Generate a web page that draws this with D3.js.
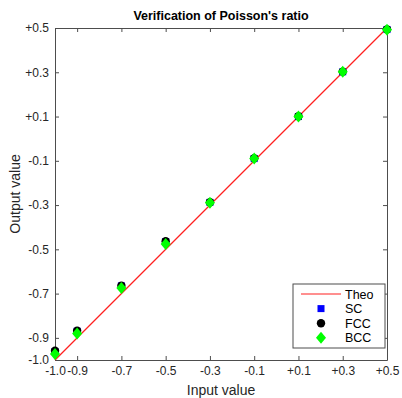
<!DOCTYPE html>
<html>
<head>
<meta charset="utf-8">
<script src="https://cdn.jsdelivr.net/npm/d3@7"></script>
<style>
  body { margin: 0; background: #fff; }
  svg { font-family: "Liberation Sans", Arial, sans-serif; }
  .axis path, .axis line { stroke: #4d4d4d; }
  .axis text { fill: #262626; font-size: 12px; }
</style>
</head>
<body>
<div id="chart"></div>
<script>
// Data
const inputValues = [-1.0, -0.9, -0.7, -0.5, -0.3, -0.1, 0.1, 0.3, 0.5];
const scValues  = [-0.962, -0.870, -0.665, -0.465, -0.288, -0.090, 0.100, 0.302, 0.493];
const fccValues = [-0.958, -0.868, -0.664, -0.463, -0.287, -0.088, 0.101, 0.303, 0.494];
const bccValues = [-0.973, -0.880, -0.675, -0.476, -0.290, -0.090, 0.100, 0.302, 0.492];
const theoX = [-1.0, 0.5];
const theoY = [-1.0, 0.5];
const tickLabels = [-1.0, -0.9, -0.7, -0.5, -0.3, -0.1, 0.1, 0.3, 0.5];

const W = 402, H = 398;
const margin = { left: 55, right: 15, top: 28, bottom: 38 };
const plotW = W - margin.left - margin.right;
const plotH = H - margin.top - margin.bottom;

const svg = d3.select('#chart').append('svg')
    .attr('width', W)
    .attr('height', H);

const g = svg.append('g')
    .attr('transform', `translate(${margin.left},${margin.top})`);

const x = d3.scaleLinear().domain([-1.0, 0.5]).range([0, plotW]);
const y = d3.scaleLinear().domain([-1.0, 0.5]).range([plotH, 0]);

const fmt = d => (d > 0 ? '+' : '') + d.toFixed(1);

// Axes (ticks inward, on all four sides)
g.append('g').attr('class', 'axis')
    .attr('transform', `translate(0,${plotH})`)
    .call(d3.axisBottom(x).tickValues(tickLabels).tickFormat(fmt).tickSizeInner(-4).tickSizeOuter(0).tickPadding(6));
g.append('g').attr('class', 'axis')
    .call(d3.axisLeft(y).tickValues(tickLabels).tickFormat(fmt).tickSizeInner(-4).tickSizeOuter(0).tickPadding(6));
g.append('g').attr('class', 'axis')
    .call(d3.axisTop(x).tickValues(tickLabels).tickFormat('').tickSizeInner(-4).tickSizeOuter(0));
g.append('g').attr('class', 'axis')
    .attr('transform', `translate(${plotW},0)`)
    .call(d3.axisRight(y).tickValues(tickLabels).tickFormat('').tickSizeInner(-4).tickSizeOuter(0));

// Theoretical line
const line = d3.line().x(d => x(d[0])).y(d => y(d[1]));
g.append('path')
    .datum(theoX.map((v, i) => [v, theoY[i]]))
    .attr('d', line)
    .attr('fill', 'none')
    .attr('stroke', '#ff2020')
    .attr('stroke-width', 1.2);

// SC squares
g.selectAll('.sc')
    .data(inputValues.map((v, i) => [v, scValues[i]]))
    .join('rect')
    .attr('class', 'sc')
    .attr('x', d => x(d[0]) - 3.5)
    .attr('y', d => y(d[1]) - 3.5)
    .attr('width', 7).attr('height', 7)
    .attr('fill', '#0000ff');

// FCC circles
g.selectAll('.fcc')
    .data(inputValues.map((v, i) => [v, fccValues[i]]))
    .join('circle')
    .attr('class', 'fcc')
    .attr('cx', d => x(d[0]))
    .attr('cy', d => y(d[1]))
    .attr('r', 4.2)
    .attr('fill', '#000');

// BCC diamonds
const diamond = (cx, cy, w, h) => `M${cx},${cy - h}L${cx + w},${cy}L${cx},${cy + h}L${cx - w},${cy}Z`;
g.selectAll('.bcc')
    .data(inputValues.map((v, i) => [v, bccValues[i]]))
    .join('path')
    .attr('class', 'bcc')
    .attr('d', d => diamond(x(d[0]), y(d[1]), 5, 6))
    .attr('fill', '#00ff00');

// Title and axis labels
svg.append('text')
    .attr('x', margin.left + plotW / 2)
    .attr('y', 20)
    .attr('text-anchor', 'middle')
    .attr('font-size', '12.5px')
    .attr('font-weight', 'bold')
    .attr('fill', '#000')
    .text("Verification of Poisson's ratio");

svg.append('text')
    .attr('x', margin.left + plotW / 2)
    .attr('y', 395)
    .attr('text-anchor', 'middle')
    .attr('font-size', '14px')
    .attr('fill', '#262626')
    .text('Input value');

svg.append('text')
    .attr('transform', 'rotate(-90)')
    .attr('x', -(margin.top + plotH / 2))
    .attr('y', 20)
    .attr('text-anchor', 'middle')
    .attr('font-size', '14px')
    .attr('fill', '#262626')
    .text('Output value');

// Legend
const legend = svg.append('g').attr('transform', 'translate(293,284)');
legend.append('rect')
    .attr('width', 92).attr('height', 64)
    .attr('fill', '#fff')
    .attr('stroke', '#4d4d4d');
const items = ['Theo', 'SC', 'FCC', 'BCC'];
items.forEach((name, i) => {
    const ly = 10 + i * 14.6;
    const mx = 28;
    if (name === 'Theo') {
        legend.append('line')
            .attr('x1', 8).attr('x2', 48).attr('y1', ly).attr('y2', ly)
            .attr('stroke', '#ff2020').attr('stroke-width', 1.2);
    } else if (name === 'SC') {
        legend.append('rect')
            .attr('x', mx - 3.5).attr('y', ly - 3.5).attr('width', 7).attr('height', 7)
            .attr('fill', '#0000ff');
    } else if (name === 'FCC') {
        legend.append('circle').attr('cx', mx).attr('cy', ly).attr('r', 4.2).attr('fill', '#000');
    } else {
        legend.append('path').attr('d', diamond(mx, ly, 5, 6)).attr('fill', '#00ff00');
    }
    legend.append('text')
        .attr('x', 52).attr('y', ly + 4.5)
        .attr('font-size', '12.5px')
        .attr('fill', '#000')
        .text(name);
});
</script>
</body>
</html>
